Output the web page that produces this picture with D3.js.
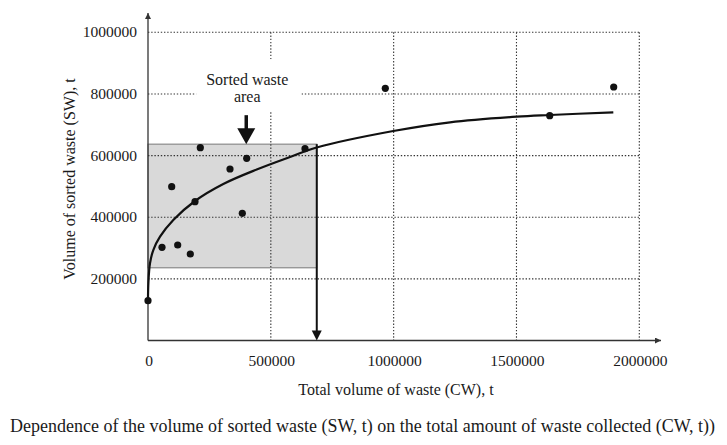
<!DOCTYPE html>
<html>
<head>
<meta charset="utf-8">
<script src="https://cdn.jsdelivr.net/npm/d3@7"></script>
<style>
  body { margin: 0; background: #fff; }
  text { font-family: "Times New Roman", "Liberation Serif", serif; fill: #1a1a1a; }
</style>
</head>
<body>
<div id="chart"></div>
<script>
// ticks
const xTicks = [0, 500000, 1000000, 1500000, 2000000];
const yTicks = [200000, 400000, 600000, 800000, 1000000];

// observed points (CW, SW)
const cwValues = [0, 57000, 96500, 120900, 172200, 191300, 212900, 333800, 383900, 401800, 639100, 966000, 1635300, 1895800];
const swValues = [129100, 302400, 499000, 309900, 280700, 450300, 625600, 556400, 412700, 591200, 622300, 818300, 729400, 822500];

// trend line
const trendCW = [0, 1500, 8100, 21600, 48900, 103000, 191300, 306500, 442500, 578100, 686800, 998600, 1229400, 1500900, 1636500, 1894200];
const trendSW = [131400, 185600, 250500, 293600, 336800, 391000, 452600, 507800, 554800, 595400, 626200, 679700, 708000, 726200, 731700, 740400];

// sorted waste area
const areaRight = 687000;
const areaTop = 637000;
const areaBottom = 236000;
const markerCW = 400000;

const W = 727, H = 445;

const svg = d3.select("#chart")
    .append("svg")
    .attr("width", W)
    .attr("height", H);

const x = d3.scaleLinear().domain([0, 2000000]).range([148, 639.3]);
const y = d3.scaleLinear().domain([0, 1000000]).range([340.5, 32.3]);

const defs = svg.append("defs");
defs.append("marker")
    .attr("id", "axisHead")
    .attr("viewBox", "0 0 10 10")
    .attr("refX", 10).attr("refY", 5)
    .attr("markerWidth", 7).attr("markerHeight", 6)
    .attr("markerUnits", "userSpaceOnUse")
    .attr("orient", "auto")
    .append("path").attr("d", "M0,0L10,5L0,10Z").attr("fill", "#333");

// shaded area
svg.append("rect")
    .attr("x", x(0))
    .attr("y", y(areaTop))
    .attr("width", x(areaRight) - x(0))
    .attr("height", y(areaBottom) - y(areaTop))
    .attr("fill", "#d9d9d9")
    .attr("stroke", "#8a8a8a")
    .attr("stroke-width", 1.2);

// dotted grid
const grid = svg.append("g")
    .attr("stroke", "#333")
    .attr("stroke-width", 1.1)
    .attr("stroke-dasharray", "1.4,1.8");

grid.selectAll(".h")
    .data(yTicks)
    .enter()
    .append("line")
    .attr("x1", x(0))
    .attr("x2", x(2000000))
    .attr("y1", d => y(d))
    .attr("y2", d => y(d));

grid.selectAll(".v")
    .data(xTicks.slice(1))
    .enter()
    .append("line")
    .attr("x1", d => x(d))
    .attr("x2", d => x(d))
    .attr("y1", y(1000000))
    .attr("y2", y(0));

// axes
svg.append("line")
    .attr("x1", x(0)).attr("y1", y(0))
    .attr("x2", x(0)).attr("y2", 13)
    .attr("stroke", "#333").attr("stroke-width", 1.3)
    .attr("marker-end", "url(#axisHead)");

svg.append("line")
    .attr("x1", x(0)).attr("y1", y(0))
    .attr("x2", 661).attr("y2", y(0))
    .attr("stroke", "#333").attr("stroke-width", 1.3)
    .attr("marker-end", "url(#axisHead)");

// tick labels
svg.selectAll(".ylab")
    .data(yTicks)
    .enter()
    .append("text")
    .attr("x", 137)
    .attr("y", d => y(d))
    .attr("dy", "0.33em")
    .attr("text-anchor", "end")
    .style("font-size", "15.5px")
    .text(d => d);

svg.selectAll(".xlab")
    .data(xTicks)
    .enter()
    .append("text")
    .attr("x", d => x(d) + 1)
    .attr("y", 366)
    .attr("text-anchor", "middle")
    .style("font-size", "15.5px")
    .text(d => d);

// titles
svg.append("text")
    .attr("x", 396)
    .attr("y", 395)
    .attr("text-anchor", "middle")
    .style("font-size", "16px")
    .text("Total volume of waste (CW), t");

svg.append("text")
    .attr("transform", "translate(75,179) rotate(-90)")
    .attr("text-anchor", "middle")
    .style("font-size", "16px")
    .text("Volume of sorted waste (SW), t");

svg.append("text")
    .attr("x", 10)
    .attr("y", 432)
    .style("font-size", "18px")
    .text("Dependence of the volume of sorted waste (SW, t) on the total amount of waste collected (CW, t))");

// label with white box
const mx = x(markerCW), tipY = y(areaTop);
const label = svg.append("g");
const labelBox = label.append("rect").attr("fill", "#fff");
const labelText = label.append("text")
    .attr("text-anchor", "middle")
    .style("font-size", "16px");
labelText.append("tspan").attr("x", mx + 1).attr("y", tipY - 59).text("Sorted waste");
labelText.append("tspan").attr("x", mx + 1).attr("y", tipY - 42).text("area");
const bb = labelText.node().getBBox();
labelBox
    .attr("x", bb.x - 10)
    .attr("y", bb.y - 12)
    .attr("width", bb.width + 23)
    .attr("height", bb.height + 18);

// marker arrow pointing at the area
svg.append("line")
    .attr("x1", mx).attr("x2", mx)
    .attr("y1", tipY - 29).attr("y2", tipY - 14)
    .attr("stroke", "#111").attr("stroke-width", 3.5);
svg.append("path")
    .attr("d", `M${mx - 9},${tipY - 16}L${mx + 9},${tipY - 16}L${mx},${tipY}Z`)
    .attr("fill", "#111");

// arrow down to the x axis
svg.append("line")
    .attr("x1", x(areaRight)).attr("x2", x(areaRight))
    .attr("y1", y(areaTop)).attr("y2", y(0) - 8)
    .attr("stroke", "#111").attr("stroke-width", 2);
svg.append("path")
    .attr("d", `M${x(areaRight) - 5},${y(0) - 10}L${x(areaRight) + 5},${y(0) - 10}L${x(areaRight)},${y(0)}Z`)
    .attr("fill", "#111");

// trend line
const trend = trendCW.map((d, i) => [d, trendSW[i]]);
svg.append("path")
    .datum(trend)
    .attr("fill", "none")
    .attr("stroke", "#111")
    .attr("stroke-width", 2.2)
    .attr("d", d3.line()
        .x(d => x(d[0]))
        .y(d => y(d[1]))
        .curve(d3.curveCatmullRom.alpha(0.5)));

// points
svg.selectAll(".pt")
    .data(cwValues.map((d, i) => [d, swValues[i]]))
    .enter()
    .append("circle")
    .attr("cx", d => x(d[0]))
    .attr("cy", d => y(d[1]))
    .attr("r", 3.6)
    .attr("fill", "#111");
</script>
</body>
</html>
